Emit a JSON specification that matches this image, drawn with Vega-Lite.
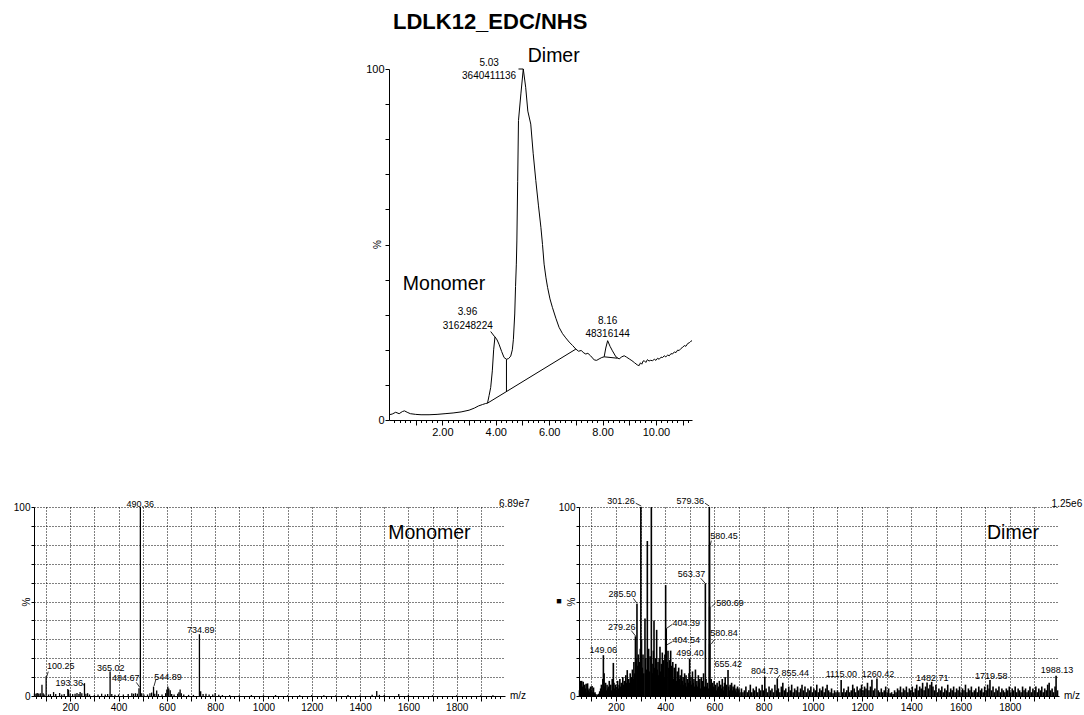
{
  "$schema": "https://vega.github.io/schema/vega-lite/v6.json",
  "padding": {"left": 13, "top": 11, "right": 0, "bottom": 0},
  "config": {
    "view": {"stroke": null},
    "font": "Liberation Sans",
    "axis": {"labelFont": "Liberation Sans", "titleFont": "Liberation Sans", "domainColor": "#000", "tickColor": "#000", "labelColor": "#000", "titleColor": "#000", "titleFontWeight": "normal", "labelOverlap": false, "labelFlush": false}
  },
  "datasets": {
    "chrom": [
      {"t":0.00,"p":1.5},{"t":0.12,"p":1.7},{"t":0.25,"p":2.2},{"t":0.38,"p":1.8},{"t":0.50,"p":2.4},{"t":0.58,"p":2.6},{"t":0.68,"p":2.2},{"t":0.80,"p":1.8},{"t":1.00,"p":1.6},{"t":1.20,"p":1.5},{"t":1.50,"p":1.5},{"t":1.80,"p":1.6},{"t":2.10,"p":1.8},{"t":2.40,"p":2.0},{"t":2.70,"p":2.3},{"t":3.00,"p":2.8},{"t":3.20,"p":3.4},{"t":3.35,"p":4.0},{"t":3.50,"p":4.4},{"t":3.62,"p":4.7},{"t":3.69,"p":4.8},{"t":3.75,"p":7},{"t":3.81,"p":9.3},{"t":3.87,"p":14},{"t":3.92,"p":20},{"t":3.97,"p":23.7},{"t":4.05,"p":22.8},{"t":4.12,"p":21.6},{"t":4.22,"p":19.5},{"t":4.31,"p":17.8},{"t":4.40,"p":17.3},{"t":4.48,"p":17.5},{"t":4.56,"p":18.2},{"t":4.62,"p":20},{"t":4.66,"p":23},{"t":4.71,"p":30.2},{"t":4.74,"p":38},{"t":4.77,"p":44.4},{"t":4.79,"p":51},{"t":4.82,"p":68},{"t":4.85,"p":85.3},{"t":4.94,"p":92.9},{"t":5.03,"p":100},{"t":5.12,"p":94.8},{"t":5.20,"p":88},{"t":5.31,"p":84.3},{"t":5.40,"p":76},{"t":5.50,"p":68.2},{"t":5.60,"p":61},{"t":5.69,"p":54.9},{"t":5.75,"p":50},{"t":5.81,"p":44.4},{"t":5.88,"p":40.5},{"t":5.94,"p":37.8},{"t":6.03,"p":34.5},{"t":6.12,"p":32.1},{"t":6.25,"p":29},{"t":6.37,"p":26.4},{"t":6.50,"p":24.6},{"t":6.62,"p":23.4},{"t":6.75,"p":22.2},{"t":6.88,"p":21.2},{"t":7.00,"p":20.2},{"t":7.10,"p":19.6},{"t":7.20,"p":19.8},{"t":7.30,"p":19.1},{"t":7.37,"p":18.8},{"t":7.45,"p":19.0},{"t":7.55,"p":18.3},{"t":7.69,"p":17.1},{"t":7.78,"p":17.0},{"t":7.87,"p":17.4},{"t":7.97,"p":17.8},{"t":8.06,"p":18.0},{"t":8.12,"p":20.5},{"t":8.19,"p":22.6},{"t":8.28,"p":21.0},{"t":8.37,"p":19.7},{"t":8.50,"p":18.0},{"t":8.62,"p":17.4},{"t":8.72,"p":18.0},{"t":8.81,"p":18.3},{"t":8.90,"p":17.9},{"t":9.00,"p":17.4},{"t":9.10,"p":16.9},{"t":9.20,"p":16.3},{"t":9.30,"p":15.7},{"t":9.37,"p":15.5},{"t":9.42,"p":16.3},{"t":9.47,"p":15.9},{"t":9.52,"p":16.8},{"t":9.56,"p":16.9},{"t":9.62,"p":16.4},{"t":9.68,"p":17.2},{"t":9.74,"p":16.8},{"t":9.80,"p":17.0},{"t":9.87,"p":16.9},{"t":9.94,"p":17.3},{"t":10.00,"p":17.0},{"t":10.06,"p":17.6},{"t":10.12,"p":17.3},{"t":10.19,"p":17.9},{"t":10.25,"p":17.8},{"t":10.31,"p":18.3},{"t":10.37,"p":18.0},{"t":10.44,"p":18.5},{"t":10.50,"p":18.3},{"t":10.56,"p":18.9},{"t":10.62,"p":18.8},{"t":10.69,"p":19.4},{"t":10.75,"p":19.2},{"t":10.81,"p":19.9},{"t":10.87,"p":19.8},{"t":10.94,"p":20.4},{"t":11.00,"p":20.7},{"t":11.06,"p":21.2},{"t":11.12,"p":21.0},{"t":11.19,"p":21.8},{"t":11.25,"p":22.0},{"t":11.30,"p":22.4},{"t":11.35,"p":22.6}
    ],
    "integ": [
      {"t":3.69,"p":4.8,"t2":7.0,"p2":20.2},
      {"t":4.40,"p":8.0,"t2":4.40,"p2":17.3},
      {"t":8.06,"p":18.0,"t2":8.56,"p2":17.6},
      {"t":3.81,"p":25.2,"t2":3.96,"p2":23.7},
      {"t":4.85,"p":100,"t2":5.03,"p2":100}
    ],
    "clab": [
      {"t":3.75,"p":101.6,"lab":"5.03"},{"t":3.75,"p":98.1,"lab":"3640411136"},
      {"t":2.94,"p":30.7,"lab":"3.96"},{"t":2.95,"p":26.9,"lab":"316248224"},
      {"t":8.19,"p":28.1,"lab":"8.16"},{"t":8.19,"p":24.5,"lab":"48316144"}
    ],
    "cbig": [
      {"t":6.17,"p":103.8,"lab":"Dimer"},{"t":2.06,"p":38.7,"lab":"Monomer"}
    ],
    "ctitle": [{"t":3.79,"p":113.3,"lab":"LDLK12_EDC/NHS"}],
    "mon": [
      {"m":52,"i":1.4},{"m":58,"i":1.2},{"m":62,"i":1.5},{"m":66,"i":1.6},{"m":70,"i":1},{"m":76,"i":1.4},{"m":83,"i":5.9},{"m":88,"i":1.5},{"m":92,"i":0.8},{"m":100.25,"i":10.4},{"m":110,"i":0.8},{"m":118,"i":1},{"m":131,"i":2.1},{"m":140,"i":1},{"m":156,"i":1.6},{"m":165,"i":0.8},{"m":175,"i":1},{"m":190,"i":3.7},{"m":193.36,"i":3.2},{"m":200,"i":1.2},{"m":210,"i":1},{"m":220,"i":1.2},{"m":228,"i":1.6},{"m":236,"i":1},{"m":241,"i":2.1},{"m":248,"i":1.5},{"m":259,"i":6.8},{"m":265,"i":1.2},{"m":272,"i":1.5},{"m":280,"i":0.8},{"m":300,"i":0.5},{"m":315,"i":0.8},{"m":330,"i":1.2},{"m":345,"i":0.8},{"m":355,"i":1},{"m":365.02,"i":13},{"m":372,"i":1},{"m":385,"i":0.6},{"m":400,"i":0.8},{"m":420,"i":0.8},{"m":440,"i":1},{"m":455,"i":1.5},{"m":462,"i":1.2},{"m":470,"i":1.5},{"m":478,"i":1.2},{"m":484.67,"i":4.1},{"m":490.36,"i":100},{"m":496,"i":1.5},{"m":505,"i":0.8},{"m":520,"i":0.8},{"m":530,"i":1.5},{"m":537,"i":1.8},{"m":544.89,"i":5},{"m":550,"i":1.2},{"m":558,"i":2.9},{"m":565,"i":1},{"m":580,"i":0.8},{"m":595,"i":1.5},{"m":600,"i":3.5},{"m":604,"i":5},{"m":608,"i":4},{"m":614,"i":3},{"m":620,"i":1},{"m":630,"i":0.8},{"m":645,"i":1.2},{"m":650,"i":2},{"m":655,"i":3.5},{"m":660,"i":1.5},{"m":670,"i":0.8},{"m":690,"i":0.6},{"m":710,"i":0.6},{"m":734.89,"i":32.7},{"m":740,"i":2.5},{"m":750,"i":1},{"m":762,"i":1.2},{"m":775,"i":0.8},{"m":790,"i":0.8},{"m":800,"i":1.6},{"m":815,"i":0.6},{"m":830,"i":0.5},{"m":860,"i":0.5},{"m":900,"i":0.4},{"m":950,"i":0.5},{"m":1000,"i":0.4},{"m":1050,"i":0.5},{"m":1100,"i":0.4},{"m":1150,"i":0.4},{"m":1200,"i":0.5},{"m":1250,"i":0.4},{"m":1300,"i":0.4},{"m":1350,"i":0.5},{"m":1400,"i":0.4},{"m":1450,"i":0.6},{"m":1469,"i":2.7},{"m":1480,"i":0.6},{"m":1500,"i":0.5},{"m":1560,"i":1},{"m":1600,"i":0.5},{"m":1700,"i":0.4},{"m":1800,"i":0.4},{"m":1900,"i":0.4},{"m":1950,"i":0.4}
    ],
    "monLab": [
      {"m":490,"i":101.8,"lab":"490.36"},{"m":740,"i":34.9,"lab":"734.89"},{"m":160.5,"i":15.9,"lab":"100.25"},{"m":367.5,"i":14.7,"lab":"365.02"},{"m":196,"i":6.7,"lab":"193.36"},{"m":429.6,"i":9.7,"lab":"484.67"},{"m":604.8,"i":10.2,"lab":"544.89"}
    ],
    "monLead": [
      {"m":109,"i":12.9,"m2":102.5,"i2":10.2},{"m":473.6,"i":7.2,"m2":487.5,"i2":4.6},{"m":554,"i":8.5,"m2":547,"i2":5.3},{"m":250,"i":6.7,"m2":259,"i2":5.3}
    ],
    "dim": [
      {"m":52,"i":3},{"m":55,"i":8},{"m":58,"i":6},{"m":61,"i":8},{"m":64,"i":5},{"m":67,"i":7.5},{"m":70,"i":3},{"m":73,"i":6},{"m":76,"i":4},{"m":79,"i":6.5},{"m":82,"i":2},{"m":85,"i":6.7},{"m":88,"i":3},{"m":91,"i":4},{"m":94,"i":2},{"m":97,"i":5},{"m":100,"i":3},{"m":103,"i":5.3},{"m":106,"i":2},{"m":109,"i":4.5},{"m":112,"i":1.5},{"m":115,"i":2},{"m":118,"i":1},{"m":124,"i":0.8},{"m":130,"i":1.2},{"m":134,"i":2.5},{"m":138,"i":4},{"m":141,"i":6},{"m":144,"i":3},{"m":147,"i":9},{"m":149.06,"i":21.6},{"m":152,"i":12},{"m":155,"i":5},{"m":158,"i":7},{"m":161,"i":3},{"m":164,"i":6},{"m":167,"i":4},{"m":170,"i":5},{"m":173,"i":8},{"m":176,"i":4},{"m":179,"i":6},{"m":182,"i":3},{"m":185,"i":9},{"m":189.5,"i":17.5},{"m":192,"i":7},{"m":195,"i":4},{"m":198,"i":6},{"m":201,"i":3},{"m":204,"i":5},{"m":207,"i":8},{"m":210,"i":4},{"m":213,"i":6},{"m":216,"i":9},{"m":219,"i":5},{"m":222,"i":7},{"m":225,"i":4},{"m":228,"i":10},{"m":231,"i":6},{"m":234,"i":8},{"m":237,"i":5},{"m":240,"i":11},{"m":243,"i":7},{"m":246,"i":13.7},{"m":249,"i":6},{"m":252,"i":9},{"m":255,"i":7},{"m":258,"i":12},{"m":261,"i":8},{"m":264,"i":10},{"m":267,"i":14},{"m":270,"i":9},{"m":273,"i":18},{"m":276,"i":12},{"m":279.26,"i":31.6},{"m":282,"i":20},{"m":285.5,"i":48.8},{"m":288,"i":16},{"m":291,"i":22},{"m":294,"i":13},{"m":297,"i":18},{"m":299,"i":25},{"m":301.26,"i":100},{"m":304,"i":30},{"m":307,"i":15},{"m":310,"i":22},{"m":313,"i":12},{"m":318,"i":41},{"m":321,"i":20},{"m":324,"i":14},{"m":327.6,"i":82},{"m":330,"i":18},{"m":333,"i":25},{"m":336,"i":13},{"m":339,"i":21},{"m":343.9,"i":100},{"m":347,"i":17},{"m":350,"i":12},{"m":352,"i":24},{"m":354.7,"i":40},{"m":358,"i":15},{"m":361,"i":20},{"m":365.5,"i":35},{"m":368,"i":14},{"m":371,"i":18},{"m":374,"i":11},{"m":376,"i":20},{"m":379,"i":26},{"m":382,"i":13},{"m":385,"i":17},{"m":388.5,"i":23},{"m":391,"i":12},{"m":394,"i":19},{"m":397,"i":10},{"m":399,"i":22},{"m":402,"i":58.7},{"m":404.39,"i":35.8},{"m":404.54,"i":27},{"m":408,"i":18},{"m":411.6,"i":24},{"m":415,"i":15},{"m":418,"i":19},{"m":420,"i":12},{"m":422.4,"i":24},{"m":425,"i":16},{"m":428,"i":11},{"m":431,"i":18},{"m":434,"i":9},{"m":437,"i":15},{"m":440,"i":10},{"m":443,"i":17},{"m":446,"i":8},{"m":449,"i":13},{"m":452,"i":7},{"m":455,"i":15},{"m":458,"i":9},{"m":461,"i":11},{"m":464,"i":6},{"m":467,"i":14},{"m":470,"i":8},{"m":473,"i":10},{"m":476,"i":6},{"m":479,"i":12},{"m":482,"i":7},{"m":485,"i":11},{"m":488,"i":5},{"m":491,"i":9},{"m":494,"i":7},{"m":497,"i":12},{"m":499.4,"i":19.8},{"m":502,"i":8},{"m":505,"i":10},{"m":508,"i":6},{"m":511,"i":13},{"m":514,"i":7},{"m":517,"i":9},{"m":520,"i":5},{"m":523,"i":14},{"m":526,"i":6},{"m":529,"i":8},{"m":532,"i":5},{"m":535,"i":11},{"m":538,"i":7},{"m":541,"i":9},{"m":544,"i":4},{"m":547,"i":10},{"m":550,"i":6},{"m":553,"i":8},{"m":556,"i":12},{"m":559,"i":5},{"m":563.37,"i":59.6},{"m":566,"i":9},{"m":569,"i":5},{"m":572,"i":7},{"m":575,"i":4},{"m":579.36,"i":100},{"m":580.45,"i":79.9},{"m":580.69,"i":47.3},{"m":580.84,"i":27.5},{"m":584,"i":6},{"m":587,"i":9},{"m":590,"i":4},{"m":593,"i":7},{"m":596,"i":5},{"m":599,"i":8},{"m":602,"i":4},{"m":605,"i":6},{"m":608,"i":3},{"m":611,"i":7},{"m":614,"i":4},{"m":617,"i":5},{"m":620,"i":8},{"m":623,"i":3},{"m":626,"i":6},{"m":629,"i":4},{"m":632,"i":9},{"m":635,"i":5},{"m":638,"i":3},{"m":641,"i":7},{"m":644,"i":10},{"m":647,"i":4},{"m":650,"i":6},{"m":655.42,"i":13.7},{"m":658,"i":5},{"m":661,"i":3},{"m":664,"i":6},{"m":667,"i":4},{"m":670,"i":7},{"m":673,"i":3},{"m":676,"i":5},{"m":679,"i":4},{"m":682,"i":6},{"m":685,"i":3},{"m":688,"i":4},{"m":691,"i":2},{"m":694,"i":5},{"m":697,"i":3},{"m":700,"i":4},
      {"m":704,"i":2},{"m":710,"i":4},{"m":716,"i":2},{"m":722,"i":3},{"m":728,"i":5},{"m":734,"i":2},{"m":740,"i":3},{"m":746,"i":6},{"m":752,"i":2},{"m":758,"i":4},{"m":764,"i":3},{"m":770,"i":5},{"m":776,"i":2},{"m":782,"i":4},{"m":788,"i":3},{"m":794,"i":6},{"m":800,"i":3},{"m":804.73,"i":10.2},{"m":810,"i":4},{"m":816,"i":2},{"m":822,"i":5},{"m":828,"i":3},{"m":834,"i":4},{"m":840,"i":2},{"m":846,"i":6},{"m":852,"i":3},{"m":855.44,"i":9.3},{"m":860,"i":4},{"m":866,"i":2},{"m":872,"i":5},{"m":878,"i":7},{"m":884,"i":3},{"m":890,"i":4},{"m":896,"i":2},{"m":902,"i":5},{"m":908,"i":3},{"m":914,"i":6},{"m":920,"i":2},{"m":926,"i":4},{"m":932,"i":3},{"m":938,"i":5},{"m":944,"i":2},{"m":950,"i":4},{"m":956,"i":6},{"m":962,"i":3},{"m":968,"i":5},{"m":974,"i":2},{"m":980,"i":4},{"m":986,"i":3},{"m":992,"i":5},{"m":998,"i":2},{"m":1004,"i":4},{"m":1010,"i":3},{"m":1016,"i":6},{"m":1022,"i":2},{"m":1028,"i":4},{"m":1034,"i":3},{"m":1040,"i":5},{"m":1046,"i":2},{"m":1052,"i":4},{"m":1058,"i":6},{"m":1064,"i":3},{"m":1070,"i":2},{"m":1076,"i":4},{"m":1082,"i":1.5},{"m":1088,"i":3},{"m":1094,"i":2},{"m":1100,"i":3},{"m":1106,"i":2},{"m":1115,"i":8.4},{"m":1120,"i":2},{"m":1126,"i":4},{"m":1132,"i":2},{"m":1138,"i":3},{"m":1144,"i":5},{"m":1150,"i":2},{"m":1156,"i":3},{"m":1162,"i":6},{"m":1168,"i":4},{"m":1174,"i":2},{"m":1180,"i":5},{"m":1186,"i":3},{"m":1192,"i":4},{"m":1198,"i":6},{"m":1204,"i":3},{"m":1210,"i":5},{"m":1216,"i":4},{"m":1222,"i":7},{"m":1228,"i":3},{"m":1234,"i":5},{"m":1240,"i":8.6},{"m":1246,"i":3},{"m":1252,"i":4},{"m":1260.42,"i":9.3},{"m":1266,"i":3},{"m":1272,"i":2},{"m":1278,"i":4},{"m":1284,"i":2},{"m":1290,"i":3},{"m":1296,"i":5},{"m":1302,"i":2},{"m":1308,"i":4},{"m":1314,"i":1.5},{"m":1320,"i":2},{"m":1326,"i":1},{"m":1332,"i":3},{"m":1338,"i":2},{"m":1344,"i":4},{"m":1350,"i":3},{"m":1356,"i":5},{"m":1362,"i":2},{"m":1368,"i":4},{"m":1374,"i":3},{"m":1380,"i":5},{"m":1386,"i":2},{"m":1392,"i":4},{"m":1398,"i":3},{"m":1404,"i":5},{"m":1410,"i":2},{"m":1416,"i":4},{"m":1422,"i":6},{"m":1428,"i":3},{"m":1434,"i":5},{"m":1440,"i":4},{"m":1446,"i":7},{"m":1452,"i":3},{"m":1458,"i":5},{"m":1464,"i":7.2},{"m":1470,"i":4},{"m":1476,"i":6},{"m":1482.71,"i":7.5},{"m":1488,"i":5},{"m":1494,"i":3},{"m":1500,"i":6},{"m":1506,"i":2},{"m":1512,"i":4},{"m":1518,"i":3},{"m":1524,"i":5},{"m":1530,"i":2},{"m":1536,"i":4},{"m":1542,"i":3},{"m":1548,"i":6},{"m":1554,"i":2},{"m":1560,"i":4},{"m":1566,"i":3},{"m":1572,"i":5},{"m":1578,"i":2},{"m":1584,"i":4},{"m":1590,"i":3},{"m":1596,"i":5},{"m":1602,"i":2},{"m":1608,"i":4},{"m":1614,"i":3},{"m":1620,"i":6},{"m":1626,"i":2},{"m":1632,"i":4},{"m":1638,"i":3},{"m":1644,"i":5},{"m":1650,"i":2},{"m":1656,"i":3},{"m":1662,"i":4},{"m":1668,"i":2},{"m":1674,"i":5},{"m":1680,"i":3},{"m":1686,"i":4},{"m":1692,"i":2},{"m":1698,"i":5},{"m":1704,"i":3},{"m":1710,"i":6},{"m":1716,"i":4},{"m":1719.58,"i":8.4},{"m":1726,"i":3},{"m":1732,"i":5},{"m":1738,"i":2},{"m":1744,"i":4},{"m":1750,"i":3},{"m":1756,"i":5},{"m":1762,"i":2},{"m":1768,"i":4},{"m":1774,"i":3},{"m":1780,"i":2},{"m":1786,"i":4},{"m":1792,"i":3},{"m":1798,"i":5},{"m":1804,"i":2},{"m":1810,"i":4},{"m":1816,"i":3},{"m":1822,"i":5},{"m":1828,"i":2},{"m":1834,"i":4},{"m":1840,"i":3},{"m":1846,"i":2},{"m":1852,"i":5},{"m":1858,"i":3},{"m":1864,"i":4},{"m":1870,"i":2},{"m":1876,"i":3},{"m":1882,"i":5},{"m":1888,"i":2},{"m":1894,"i":4},{"m":1900,"i":3},{"m":1906,"i":5},{"m":1912,"i":2},{"m":1918,"i":4},{"m":1924,"i":3},{"m":1930,"i":5},{"m":1936,"i":2},{"m":1942,"i":4},{"m":1948,"i":3},{"m":1954,"i":6},{"m":1960,"i":7},{"m":1966,"i":3},{"m":1972,"i":4},{"m":1978,"i":2},{"m":1984,"i":5},{"m":1988.13,"i":10.7},{"m":1994,"i":3}
    ],
    "dimLab": [
      {"m":220.6,"i":103.3,"lab":"301.26"},{"m":501.7,"i":103.3,"lab":"579.36"},{"m":639,"i":84.8,"lab":"580.45"},{"m":507,"i":64.6,"lab":"563.37"},{"m":226,"i":53.8,"lab":"285.50"},{"m":663.4,"i":49.4,"lab":"580.69"},{"m":486,"i":38.5,"lab":"404.39"},{"m":223.4,"i":36.7,"lab":"279.26"},{"m":639,"i":33.2,"lab":"580.84"},{"m":486,"i":29.6,"lab":"404.54"},{"m":148.2,"i":24.3,"lab":"149.06"},{"m":501,"i":22.9,"lab":"499.40"},{"m":656.7,"i":16.9,"lab":"655.42"},{"m":804.3,"i":13.2,"lab":"804.73"},{"m":928.9,"i":12.3,"lab":"855.44"},{"m":1115.7,"i":11.6,"lab":"1115.00"},{"m":1264.7,"i":11.6,"lab":"1260.42"},{"m":1485.5,"i":9.3,"lab":"1482.71"},{"m":1725,"i":10.8,"lab":"1719.58"},{"m":1992,"i":13.8,"lab":"1988.13"}
    ],
    "dimLead": [
      {"m":280.3,"i":102,"m2":303,"i2":100.5},{"m":562,"i":102,"m2":579.5,"i2":100.5},{"m":587.6,"i":82.2,"m2":583.5,"i2":79.9},{"m":544.3,"i":62.3,"m2":563,"i2":59.6},{"m":270.7,"i":51.7,"m2":285.6,"i2":49},{"m":603.9,"i":49,"m2":589,"i2":47.3},{"m":429,"i":37.9,"m2":406,"i2":35.8},{"m":262.5,"i":34.6,"m2":280,"i2":31.7},{"m":598.4,"i":29.6,"m2":587.6,"i2":27.5},{"m":429,"i":28.7,"m2":406,"i2":27},{"m":866.6,"i":11.1,"m2":855.6,"i2":9.3}
    ]
  },
  "spacing": 59,
  "vconcat": [
    {
      "spacing": 0,
      "bounds": "flush",
      "hconcat": [
        {"width": 355, "height": 10, "data": {"values": []}, "mark": "point"},
        {
          "width": 303,
          "height": 351,
          "resolve": {"axis": {"x": "independent", "y": "independent"}},
          "layer": [
            {
              "data": {"name": "chrom"},
              "mark": {"type": "line", "color": "black", "strokeWidth": 1},
              "encoding": {
                "x": {"field": "t", "type": "quantitative", "scale": {"domain": [0, 11.35], "nice": false, "zero": false},
                      "axis": {"orient": "bottom", "values": [1,2,3,4,5,6,7,8,9,10,11], "labelExpr": "datum.value % 2 == 0 ? format(datum.value, '.2f') : ''", "tickSize": 5, "labelFontSize": 11, "labelPadding": 1, "grid": false, "title": null}},
                "y": {"field": "p", "type": "quantitative", "scale": {"domain": [0, 100], "nice": false},
                      "axis": {"orient": "left", "values": [0,10,20,30,40,50,60,70,80,90,100], "labelExpr": "datum.value == 0 || datum.value == 100 ? datum.label : ''", "tickSize": 4, "labelFontSize": 11, "labelPadding": 1, "grid": false, "title": "%", "titleFontSize": 10, "titleX": -12, "titleY": 175, "titleBaseline": "middle"}}
              }
            },
            {
              "data": {"name": "chrom"},
              "mark": {"type": "point", "opacity": 0, "size": 1},
              "encoding": {
                "x": {"field": "t", "type": "quantitative",
                      "axis": {"orient": "bottom", "values": [0.2,0.4,0.6,0.8,1.2,1.4,1.6,1.8,2.2,2.4,2.6,2.8,3.2,3.4,3.6,3.8,4.2,4.4,4.6,4.8,5.2,5.4,5.6,5.8,6.2,6.4,6.6,6.8,7.2,7.4,7.6,7.8,8.2,8.4,8.6,8.8,9.2,9.4,9.6,9.8,10.2,10.4,10.6,10.8,11.2], "labels": false, "domain": false, "grid": false, "tickSize": 2.5, "title": null}},
                "y": {"field": "p", "type": "quantitative", "axis": null}
              }
            },
            {
              "data": {"name": "integ"},
              "mark": {"type": "rule", "color": "black", "strokeWidth": 1},
              "encoding": {
                "x": {"field": "t", "type": "quantitative", "axis": null},
                "x2": {"field": "t2"},
                "y": {"field": "p", "type": "quantitative", "axis": null},
                "y2": {"field": "p2"}
              }
            },
            {
              "data": {"name": "clab"},
              "mark": {"type": "text", "fontSize": 10, "baseline": "middle", "align": "center", "color": "black"},
              "encoding": {
                "x": {"field": "t", "type": "quantitative", "axis": null},
                "y": {"field": "p", "type": "quantitative", "axis": null},
                "text": {"field": "lab"}
              }
            },
            {
              "data": {"name": "cbig"},
              "mark": {"type": "text", "fontSize": 19.5, "baseline": "middle", "align": "center", "color": "black"},
              "encoding": {
                "x": {"field": "t", "type": "quantitative", "axis": null},
                "y": {"field": "p", "type": "quantitative", "axis": null},
                "text": {"field": "lab"}
              }
            },
            {
              "data": {"name": "ctitle"},
              "mark": {"type": "text", "fontSize": 22, "fontWeight": "bold", "baseline": "middle", "align": "center", "color": "black"},
              "encoding": {
                "x": {"field": "t", "type": "quantitative", "axis": null},
                "y": {"field": "p", "type": "quantitative", "axis": null},
                "text": {"field": "lab"}
              }
            }
          ]
        }
      ]
    },
    {
      "spacing": 74,
      "bounds": "flush",
      "hconcat": [
        {
          "width": 471,
          "height": 189,
          "resolve": {"axis": {"x": "independent", "y": "independent"}},
          "layer": [
            {
              "data": {"name": "mon"},
              "mark": {"type": "rule", "color": "black", "strokeWidth": 1.3},
              "encoding": {
                "x": {"field": "m", "type": "quantitative", "scale": {"domain": [50, 2000], "nice": false, "zero": false},
                      "axis": {"orient": "bottom", "values": [100,200,300,400,500,600,700,800,900,1000,1100,1200,1300,1400,1500,1600,1700,1800,1900], "format": "d", "labelExpr": "datum.value % 200 == 0 ? datum.label : ''", "tickSize": 5, "labelFontSize": 10, "labelPadding": 1, "grid": true, "gridColor": "#000", "gridDash": [1, 2], "gridOpacity": 1, "title": null}},
                "y": {"field": "i", "type": "quantitative", "scale": {"domain": [0, 100], "nice": false},
                      "axis": {"orient": "left", "values": [0,10,20,30,40,50,60,70,80,90,100], "labelExpr": "datum.value == 0 || datum.value == 100 ? datum.label : ''", "tickSize": 3, "labelFontSize": 10, "labelPadding": 1, "grid": true, "gridColor": "#000", "gridDash": [1, 2], "gridOpacity": 1, "title": "%", "titleFontSize": 10, "titleX": -8, "titleY": 94.5, "titleBaseline": "middle"}},
                "y2": {"datum": 0}
              }
            },
            {
              "data": {"name": "mon"},
              "mark": {"type": "point", "opacity": 0, "size": 1},
              "encoding": {
                "x": {"field": "m", "type": "quantitative",
                      "axis": {"orient": "bottom", "values": [60,80,120,140,160,180,220,240,260,280,320,340,360,380,420,440,460,480,520,540,560,580,620,640,660,680,720,740,760,780,820,840,860,880,920,940,960,980,1020,1040,1060,1080,1120,1140,1160,1180,1220,1240,1260,1280,1320,1340,1360,1380,1420,1440,1460,1480,1520,1540,1560,1580,1620,1640,1660,1680,1720,1740,1760,1780,1820,1840,1860,1880,1920,1940,1960,1980], "labels": false, "domain": false, "grid": false, "tickSize": 2.5, "title": null}},
                "y": {"field": "i", "type": "quantitative", "axis": null}
              }
            },
            {
              "data": {"name": "monLead"},
              "mark": {"type": "rule", "color": "black", "strokeWidth": 0.8},
              "encoding": {
                "x": {"field": "m", "type": "quantitative", "axis": null},
                "x2": {"field": "m2"},
                "y": {"field": "i", "type": "quantitative", "axis": null},
                "y2": {"field": "i2"}
              }
            },
            {
              "data": {"name": "monLab"},
              "mark": {"type": "text", "fontSize": 9, "baseline": "middle", "align": "center", "color": "black"},
              "encoding": {
                "x": {"field": "m", "type": "quantitative", "axis": null},
                "y": {"field": "i", "type": "quantitative", "axis": null},
                "text": {"field": "lab"}
              }
            },
            {
              "data": {"values": [{"m": 1687, "i": 86.1, "lab": "Monomer"}]},
              "mark": {"type": "text", "fontSize": 19.5, "baseline": "middle", "align": "center", "color": "black"},
              "encoding": {
                "x": {"field": "m", "type": "quantitative", "axis": null},
                "y": {"field": "i", "type": "quantitative", "axis": null},
                "text": {"field": "lab"}
              }
            },
            {
              "data": {"values": [{"m": 1975, "i": 101.5, "lab": "6.89e7"}]},
              "mark": {"type": "text", "fontSize": 10, "baseline": "middle", "align": "left", "color": "black"},
              "encoding": {
                "x": {"field": "m", "type": "quantitative", "axis": null},
                "y": {"field": "i", "type": "quantitative", "axis": null},
                "text": {"field": "lab"}
              }
            },
            {
              "data": {"values": [{"m": 2000, "i": 0, "lab": "m/z"}]},
              "mark": {"type": "text", "fontSize": 10, "baseline": "middle", "align": "left", "dx": 5, "color": "black"},
              "encoding": {
                "x": {"field": "m", "type": "quantitative", "axis": null},
                "y": {"field": "i", "type": "quantitative", "axis": null},
                "text": {"field": "lab"}
              }
            }
          ]
        },
        {
          "width": 480,
          "height": 189,
          "resolve": {"axis": {"x": "independent", "y": "independent"}},
          "layer": [
            {
              "data": {"name": "dim"},
              "mark": {"type": "rule", "color": "black", "strokeWidth": 1.6},
              "encoding": {
                "x": {"field": "m", "type": "quantitative", "scale": {"domain": [50, 2000], "nice": false, "zero": false},
                      "axis": {"orient": "bottom", "values": [100,200,300,400,500,600,700,800,900,1000,1100,1200,1300,1400,1500,1600,1700,1800,1900], "format": "d", "labelExpr": "datum.value % 200 == 0 ? datum.label : ''", "tickSize": 5, "labelFontSize": 10, "labelPadding": 1, "grid": true, "gridColor": "#000", "gridDash": [1, 2], "gridOpacity": 1, "title": null}},
                "y": {"field": "i", "type": "quantitative", "scale": {"domain": [0, 100], "nice": false},
                      "axis": {"orient": "left", "values": [0,10,20,30,40,50,60,70,80,90,100], "labelExpr": "datum.value == 0 || datum.value == 100 ? datum.label : ''", "tickSize": 3, "labelFontSize": 10, "labelPadding": 1, "grid": true, "gridColor": "#000", "gridDash": [1, 2], "gridOpacity": 1, "title": "%", "titleFontSize": 10, "titleX": -8, "titleY": 94.5, "titleBaseline": "middle"}},
                "y2": {"datum": 0}
              }
            },
            {
              "data": {"name": "dim"},
              "mark": {"type": "point", "opacity": 0, "size": 1},
              "encoding": {
                "x": {"field": "m", "type": "quantitative",
                      "axis": {"orient": "bottom", "values": [60,80,120,140,160,180,220,240,260,280,320,340,360,380,420,440,460,480,520,540,560,580,620,640,660,680,720,740,760,780,820,840,860,880,920,940,960,980,1020,1040,1060,1080,1120,1140,1160,1180,1220,1240,1260,1280,1320,1340,1360,1380,1420,1440,1460,1480,1520,1540,1560,1580,1620,1640,1660,1680,1720,1740,1760,1780,1820,1840,1860,1880,1920,1940,1960,1980], "labels": false, "domain": false, "grid": false, "tickSize": 2.5, "title": null}},
                "y": {"field": "i", "type": "quantitative", "axis": null}
              }
            },
            {
              "data": {"name": "dimLead"},
              "mark": {"type": "rule", "color": "black", "strokeWidth": 0.8},
              "encoding": {
                "x": {"field": "m", "type": "quantitative", "axis": null},
                "x2": {"field": "m2"},
                "y": {"field": "i", "type": "quantitative", "axis": null},
                "y2": {"field": "i2"}
              }
            },
            {
              "data": {"name": "dimLab"},
              "mark": {"type": "text", "fontSize": 9, "baseline": "middle", "align": "center", "color": "black"},
              "encoding": {
                "x": {"field": "m", "type": "quantitative", "axis": null},
                "y": {"field": "i", "type": "quantitative", "axis": null},
                "text": {"field": "lab"}
              }
            },
            {
              "data": {"values": [{"m": 1813, "i": 86.1, "lab": "Dimer"}]},
              "mark": {"type": "text", "fontSize": 19.5, "baseline": "middle", "align": "center", "color": "black"},
              "encoding": {
                "x": {"field": "m", "type": "quantitative", "axis": null},
                "y": {"field": "i", "type": "quantitative", "axis": null},
                "text": {"field": "lab"}
              }
            },
            {
              "data": {"values": [{"m": 1970, "i": 101.5, "lab": "1.25e6"}]},
              "mark": {"type": "text", "fontSize": 10, "baseline": "middle", "align": "left", "color": "black"},
              "encoding": {
                "x": {"field": "m", "type": "quantitative", "axis": null},
                "y": {"field": "i", "type": "quantitative", "axis": null},
                "text": {"field": "lab"}
              }
            },
            {
              "data": {"values": [{"m": 2000, "i": 0, "lab": "m/z"}]},
              "mark": {"type": "text", "fontSize": 10, "baseline": "middle", "align": "left", "dx": 5, "color": "black"},
              "encoding": {
                "x": {"field": "m", "type": "quantitative", "axis": null},
                "y": {"field": "i", "type": "quantitative", "axis": null},
                "text": {"field": "lab"}
              }
            },
            {
              "data": {"values": [{"m": 50, "i": 50.3, "lab": "■"}]},
              "mark": {"type": "text", "fontSize": 9, "baseline": "middle", "align": "center", "dx": -20, "color": "black"},
              "encoding": {
                "x": {"field": "m", "type": "quantitative", "axis": null},
                "y": {"field": "i", "type": "quantitative", "axis": null},
                "text": {"field": "lab"}
              }
            }
          ]
        }
      ]
    }
  ]
}
